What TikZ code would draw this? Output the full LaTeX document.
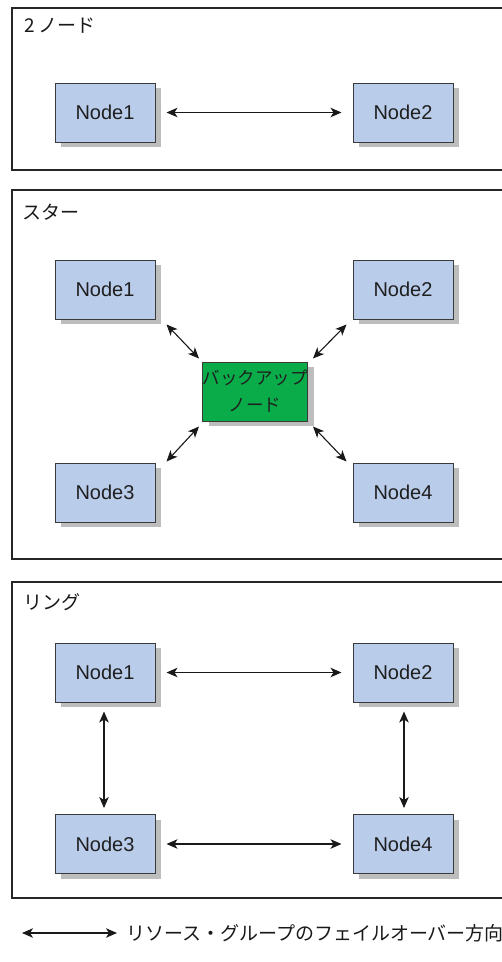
\documentclass[tikz,border=0pt]{standalone}
\usepackage{fontspec}
\setmainfont{Liberation Sans}
\newfontfamily\jpfont{Noto Sans CJK JP}
\usetikzlibrary{arrows.meta,shadows}

\definecolor{framecol}{HTML}{262626}
\definecolor{boxblue}{HTML}{B9CCEA}
\definecolor{boxgreen}{HTML}{09AC48}
\definecolor{edgecol}{HTML}{3A3A3A}
\definecolor{shadowcol}{HTML}{BDBDBD}

\tikzset{
  panel/.style={draw=framecol, line width=2pt},
  paneltitle/.style={anchor=west, inner sep=0pt, font=\jpfont\fontsize{19}{22}\selectfont, text=black!90},
  member/.style={draw=edgecol, line width=1pt, fill=boxblue,
    minimum width=100pt, minimum height=59pt, inner sep=0pt,
    font=\fontsize{20}{24}\selectfont, text=black!88,
    drop shadow={shadow xshift=6pt, shadow yshift=-5pt, fill=shadowcol, opacity=1}},
  backup/.style={member, fill=boxgreen, align=center,
    font=\jpfont\fontsize{17.5}{27}\selectfont},
  link/.style={draw=black!90, line width=1.1pt, {Stealth[length=11pt,width=9.5pt,inset=3pt]}-{Stealth[length=11pt,width=9.5pt,inset=3pt]}},
  hlink/.style={link, shorten <=11pt, shorten >=11pt},
}

\begin{document}
\begin{tikzpicture}[x=1pt, y=-1pt]
  \useasboundingbox (0,0) rectangle (502,962);

  % ---- two nodes ----
  \draw[panel] (12,8) rectangle (540,170);
  \node[paneltitle] (t1) at (24,26) {2 ノード};
  \node[member] (a1) at (105,112.5) {Node1};
  \node[member] (a2) at (403,112.5) {Node2};
  \draw[hlink] (a1) -- (a2);

  % ---- star ----
  \draw[panel] (12,190) rectangle (540,559);
  \node[paneltitle] (t2) at (22,212) {スター};
  \node[member] (s1) at (105,289.5) {Node1};
  \node[member] (s2) at (403,289.5) {Node2};
  \node[member] (s3) at (105,492.5) {Node3};
  \node[member] (s4) at (403,492.5) {Node4};
  \node[backup] (sb) at (255,391.5) {バックアップ\\ノード};
  \draw[link] ([shift={(11,5)}]s1.south east) -- ([shift={(-3,-3)}]sb.north west);
  \draw[link] ([shift={(-6,5)}]s2.south west) -- ([shift={(5,-3)}]sb.north east);
  \draw[link] ([shift={(11,-1)}]s3.north east) -- ([shift={(-3,5)}]sb.south west);
  \draw[link] ([shift={(-6,-1)}]s4.north west) -- ([shift={(5,5)}]sb.south east);

  % ---- ring ----
  \draw[panel] (12,582) rectangle (540,898);
  \node[paneltitle] (t3) at (23,602) {リング};
  \node[member] (r1) at (105,672.5) {Node1};
  \node[member] (r2) at (403,672.5) {Node2};
  \node[member] (r3) at (105,844) {Node3};
  \node[member] (r4) at (403,844) {Node4};
  \draw[hlink] (r1) -- (r2);
  \draw[hlink] (r3) -- (r4);
  \draw[link, shorten <=9pt, shorten >=6pt] (r1.south -| 104,0) -- (r3.north -| 104,0);
  \draw[link, shorten <=9pt, shorten >=6pt] (r2.south -| 404,0) -- (r4.north -| 404,0);

  % ---- legend ----
  \coordinate (lgA) at (22,933);
  \coordinate (lgB) at (117,933);
  \draw[link] (lgA) -- (lgB);
  \node[anchor=west, inner sep=0pt, font=\jpfont\fontsize{19}{22}\selectfont, text=black!90]
    (lgtext) at (126,933) {リソース・グループのフェイルオーバー方向};
\end{tikzpicture}
\end{document}
